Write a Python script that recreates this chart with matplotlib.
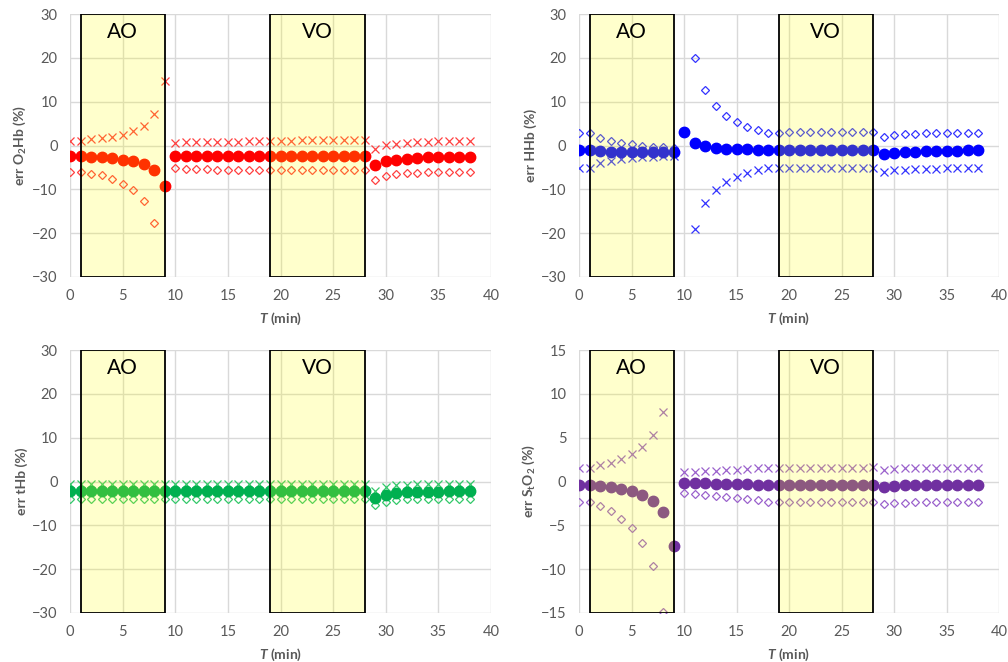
import numpy as np
import matplotlib
matplotlib.use("Agg")
import matplotlib.pyplot as plt
import matplotlib.transforms as mtransforms

plt.rcParams['font.family'] = ['Lato', 'DejaVu Sans']
plt.rcParams['mathtext.fontset'] = 'custom'
plt.rcParams['mathtext.rm'] = 'Lato:bold'
plt.rcParams['mathtext.it'] = 'Lato:italic:bold'
plt.rcParams['mathtext.bf'] = 'Lato:bold'

nan = np.nan
t = list(range(39))  # minutes 0..38

# O2Hb
o2hb_mean = [-2.5, -2.5, -2.6, -2.7, -2.9, -3.2, -3.6, -4.2, -5.5, -9.3,
             -2.4, -2.4, -2.5, -2.5, -2.5, -2.5, -2.5, -2.5, -2.5, -2.5,
             -2.5, -2.4, -2.4, -2.4, -2.4, -2.4, -2.4, -2.4, -2.4,
             -4.4, -3.6, -3.2, -3.0, -2.8, -2.7, -2.7, -2.6, -2.6, -2.6]
o2hb_up = [1.1, 1.1, 1.4, 1.7, 2.0, 2.4, 3.2, 4.4, 7.1, 14.8,
           0.6, 0.8, 0.8, 0.8, 0.8, 0.8, 0.9, 1.0, 1.1, 1.1,
           1.1, 1.1, 1.2, 1.2, 1.2, 1.3, 1.3, 1.3, 1.3,
           -0.8, 0.1, 0.4, 0.6, 0.8, 0.9, 1.0, 1.1, 1.1, 1.1]
o2hb_lo = [-6.0, -6.0, -6.4, -6.8, -7.7, -8.7, -10.2, -12.7, -17.7, nan,
           -5.2, -5.3, -5.4, -5.4, -5.5, -5.5, -5.6, -5.7, -5.7, -5.7,
           -5.7, -5.7, -5.7, -5.7, -5.7, -5.7, -5.7, -5.7, -5.6,
           -7.9, -6.9, -6.5, -6.3, -6.2, -6.1, -6.1, -6.0, -6.0, -6.0]

# HHb
hhb_mean = [-1.1, -1.1, -1.3, -1.4, -1.4, -1.5, -1.5, -1.5, -1.5, -1.5,
            3.0, 0.6, -0.1, -0.5, -0.7, -0.8, -0.9, -1.0, -1.0, -1.1,
            -1.1, -1.1, -1.1, -1.0, -1.0, -1.0, -1.0, -1.0, -1.0,
            -1.9, -1.7, -1.5, -1.4, -1.3, -1.3, -1.2, -1.2, -1.1, -1.1]
hhb_dia = [2.9, 2.9, 1.7, 1.0, 0.6, 0.3, -0.1, -0.3, -0.4, -0.5,
           nan, 20.0, 12.7, 9.0, 6.8, 5.3, 4.3, 3.5, 2.9, 2.9,
           3.0, 3.0, 3.0, 3.1, 3.1, 3.1, 3.1, 3.1, 3.1,
           2.0, 2.4, 2.6, 2.7, 2.8, 2.8, 2.8, 2.9, 2.9, 2.9]
hhb_x = [-5.1, -5.1, -4.1, -3.6, -3.1, -2.9, -2.7, -2.6, -2.5, -2.4,
         nan, -19.1, -13.1, -10.1, -8.3, -7.1, -6.3, -5.6, -5.2, -5.1,
         -5.1, -5.1, -5.1, -5.1, -5.1, -5.1, -5.1, -5.1, -5.1,
         -6.0, -5.6, -5.5, -5.4, -5.3, -5.3, -5.2, -5.2, -5.1, -5.1]

# tHb
thb_mean = [-2.2, -2.2, -2.2, -2.2, -2.2, -2.2, -2.2, -2.2, -2.2, -2.2,
            -2.2, -2.2, -2.2, -2.2, -2.2, -2.2, -2.2, -2.2, -2.2, -2.2,
            -2.2, -2.2, -2.2, -2.2, -2.2, -2.2, -2.2, -2.2, -2.2,
            -3.7, -3.1, -2.7, -2.5, -2.4, -2.3, -2.3, -2.2, -2.2, -2.2]
thb_up = [-0.5, -0.5, -0.5, -0.5, -0.5, -0.5, -0.5, -0.5, -0.5, -0.5,
          -0.5, -0.5, -0.5, -0.5, -0.5, -0.5, -0.5, -0.5, -0.5, -0.5,
          -0.5, -0.5, -0.5, -0.5, -0.5, -0.5, -0.5, -0.5, -0.5,
          -2.2, -1.2, -0.9, -0.7, -0.6, -0.6, -0.5, -0.5, -0.5, -0.5]
thb_lo = [-3.9, -3.9, -3.9, -3.9, -3.9, -3.9, -3.9, -3.9, -3.9, -3.9,
          -3.9, -3.9, -3.9, -3.9, -3.9, -3.9, -3.9, -3.9, -3.9, -3.9,
          -3.9, -3.9, -3.9, -3.9, -3.9, -3.9, -3.9, -3.9, -3.9,
          -5.4, -4.7, -4.3, -4.1, -4.0, -4.0, -3.9, -3.9, -3.9, -3.9]

# StO2
sto2_mean = [-0.4, -0.4, -0.5, -0.6, -0.8, -1.1, -1.5, -2.2, -3.5, -7.4,
             -0.15, -0.2, -0.2, -0.25, -0.25, -0.3, -0.3, -0.35, -0.35, -0.35,
             -0.4, -0.4, -0.4, -0.4, -0.4, -0.4, -0.4, -0.4, -0.4,
             -0.65, -0.55, -0.45, -0.4, -0.4, -0.4, -0.4, -0.4, -0.4, -0.4]
sto2_up = [1.55, 1.55, 1.85, 2.15, 2.6, 3.1, 3.9, 5.25, 7.95, nan,
           1.05, 1.1, 1.2, 1.25, 1.3, 1.35, 1.4, 1.5, 1.55, 1.55,
           1.55, 1.55, 1.55, 1.55, 1.55, 1.55, 1.55, 1.55, 1.6,
           1.35, 1.4, 1.5, 1.5, 1.55, 1.55, 1.55, 1.55, 1.55, 1.55]
sto2_lo = [-2.35, -2.35, -2.8, -3.4, -4.25, -5.35, -7.0, -9.6, -14.9, nan,
           -1.35, -1.45, -1.5, -1.65, -1.75, -1.9, -2.05, -2.15, -2.3, -2.3,
           -2.3, -2.3, -2.3, -2.3, -2.3, -2.3, -2.3, -2.3, -2.3,
           -2.6, -2.45, -2.4, -2.35, -2.35, -2.3, -2.3, -2.3, -2.3, -2.3]

ao_span = (1, 9)
vo_span = (19, 28)

panels = [
    # label, mean, series A, marker A, series B, marker B, main colour, light colour, ylim, ystep
    (r'err O$_\mathbf{2}$Hb (%)', o2hb_mean, o2hb_up, 'x', o2hb_lo, 'D', '#FF0000', '#FF4040', (-30, 30), 10),
    (r'err HHb (%)', hhb_mean, hhb_dia, 'D', hhb_x, 'x', '#0000FF', '#3333FF', (-30, 30), 10),
    (r'err tHb (%)', thb_mean, thb_up, 'x', thb_lo, 'D', '#00B050', '#33C86A', (-30, 30), 10),
    (r'err S$_\mathbf{t}$O$_\mathbf{2}$ (%)', sto2_mean, sto2_up, 'x', sto2_lo, 'D', '#7030A0', '#9B62CC', (-15, 15), 5),
]

fig = plt.figure(figsize=(10.08, 6.62), dpi=100)
rects = [
    [70/1008, 1-277/662, 421/1008, 263/662],
    [579/1008, 1-277/662, 420/1008, 263/662],
    [70/1008, 1-613/662, 421/1008, 263/662],
    [579/1008, 1-613/662, 420/1008, 263/662],
]

grey = '#595959'
for rect, (lab, mean, sa, ma, sb, mb, col, light, ylim, ystep) in zip(rects, panels):
    ax = fig.add_axes(rect)
    for s, m in ((sa, ma), (sb, mb)):
        if m == 'x':
            ax.plot(t, s, ls='none', marker='x', ms=5.8, mew=0.9, color=light, zorder=3)
        else:
            ax.plot(t, s, ls='none', marker='D', ms=3.8, mew=0.9, mfc='none', mec=light, zorder=3)
    ax.plot(t, mean, ls='none', marker='o', ms=7.5, color=col, mec=col, zorder=4)

    for (a, b), name in ((ao_span, 'AO'), (vo_span, 'VO')):
        ax.axvspan(a, b, facecolor=(1, 1, 0, 0.2), edgecolor='black', lw=1.3, zorder=5)
        tr = mtransforms.blended_transform_factory(ax.transData, ax.transAxes)
        ax.text((a + b) / 2, 0.93, name, transform=tr, ha='center', va='center',
                fontsize=15, color='black', zorder=6)

    ax.set_xlim(0, 40)
    ax.set_ylim(*ylim)
    ax.set_xticks(np.arange(0, 41, 5))
    ax.set_yticks(np.arange(ylim[0], ylim[1] + 1, ystep))
    ax.set_yticklabels([str(v).replace('-', '\u2212') for v in range(ylim[0], ylim[1] + 1, ystep)])
    ax.grid(True, color='#D9D9D9', lw=1.0, zorder=0)
    ax.set_axisbelow(True)
    for sp in ax.spines.values():
        sp.set_visible(False)
    ax.tick_params(length=0, labelsize=10.5, labelcolor=grey, pad=9)
    ax.set_ylabel(lab, fontsize=10, fontweight='bold', color=grey, labelpad=3)
    ax.set_xlabel(r'$T$ (min)', fontsize=10, fontweight='bold', color=grey, labelpad=5)

fig.savefig('out.png', dpi=100)
